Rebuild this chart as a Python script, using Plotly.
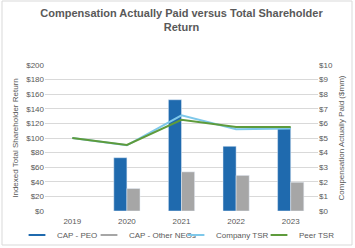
import plotly.graph_objects as go

years = ["2019", "2020", "2021", "2022", "2023"]
cap_peo = [None, 3.65, 7.62, 4.43, 5.76]
cap_other = [None, 1.54, 2.68, 2.44, 1.97]
company_tsr = [100, 90, 131, 112, 113]
peer_tsr = [100, 90.5, 125, 115, 115]

left_ticks = [0, 20, 40, 60, 80, 100, 120, 140, 160, 180, 200]
right_ticks = [0, 1, 2, 3, 4, 5, 6, 7, 8, 9, 10]

txt = "#595959"
font = "Liberation Sans, Arial, sans-serif"
c_peo, c_oth, c_co, c_peer = "#1F6AAE", "#A6A6A6", "#7EC8EA", "#5E9B3C"

fig = go.Figure()
fig.add_trace(go.Bar(x=years, y=cap_peo, name="CAP - PEO", marker_color=c_peo,
                     yaxis="y", offsetgroup="a", showlegend=False))
fig.add_trace(go.Bar(x=years, y=cap_other, name="CAP - Other NEOs", marker_color=c_oth,
                     yaxis="y", offsetgroup="b", showlegend=False))
fig.add_trace(go.Scatter(x=years, y=company_tsr, name="Company TSR", mode="lines",
                         line=dict(color=c_co, width=2), yaxis="y2", showlegend=False))
fig.add_trace(go.Scatter(x=years, y=peer_tsr, name="Peer TSR", mode="lines",
                         line=dict(color=c_peer, width=2), yaxis="y2", showlegend=False))

# legend entries, one legend each so they sit in one row like the reference;
# short horizontal-line markers act as swatches
entries = [("CAP - PEO", c_peo, 5, 59), ("CAP - Other NEOs", c_oth, 5, 131),
           ("Company TSR", c_co, 2, 218), ("Peer TSR", c_peer, 2, 301)]
legends = {}
for i, (name, col, w, tx) in enumerate(entries):
    lg = "legend" if i == 0 else f"legend{i + 1}"
    fig.add_trace(go.Scatter(x=[None], y=[None], name=name, mode="markers",
                             marker=dict(symbol="line-ew", size=12, color=col,
                                         line=dict(color=col, width=w)),
                             yaxis="y2", showlegend=True, legend=lg))
    legends[lg] = dict(orientation="h", x=(tx - 42) / 355, xanchor="left", xref="container",
                       y=(248 - 235) / 248, yanchor="middle", yref="container",
                       font=dict(size=8, color=txt), itemwidth=30, itemsizing="constant",
                       bgcolor="rgba(0,0,0,0)")

fig.update_layout(
    width=355, height=248,
    margin=dict(l=45, r=37, t=65, b=37, autoexpand=False),
    paper_bgcolor="white", plot_bgcolor="white",
    font=dict(family=font, size=8, color=txt),
    title=dict(text="<b>Compensation Actually Paid versus Total Shareholder<br>Return</b>",
               x=0.5, xanchor="center", xref="paper", y=0.933, yanchor="top", yref="container",
               font=dict(size=11, color=txt, family=font)),
    barmode="group", bargap=0.52, bargroupgap=0,
    xaxis=dict(type="category", showgrid=False, showline=False, ticks="",
               tickfont=dict(size=8, color=txt), automargin=False, ticklabelstandoff=4),
    yaxis=dict(side="right", range=[0, 10], tickvals=right_ticks,
               ticktext=["$" + str(v) for v in right_ticks],
               showgrid=True, gridcolor="#D9D9D9", gridwidth=1, zeroline=False, automargin=False,
               title=dict(text="Compensation Actually Paid ($mm)", font=dict(size=8, color=txt), standoff=6),
               tickfont=dict(size=8, color=txt)),
    yaxis2=dict(side="left", overlaying="y", range=[0, 200], tickvals=left_ticks,
                ticktext=["$" + str(v) for v in left_ticks],
                showgrid=False, zeroline=False, automargin=False,
                title=dict(text="Indexed Total Shareholder Return", font=dict(size=8, color=txt), standoff=6),
                tickfont=dict(size=8, color=txt)),
    shapes=[dict(type="rect", xref="paper", yref="paper",
                 x0=-43/273, x1=(352-45)/273, y0=(211-245)/146, y1=(211-1)/146,
                 line=dict(color="#D9D9D9", width=1), fillcolor="rgba(0,0,0,0)", layer="below")],
    **legends,
)

fig.write_html("out.html")
